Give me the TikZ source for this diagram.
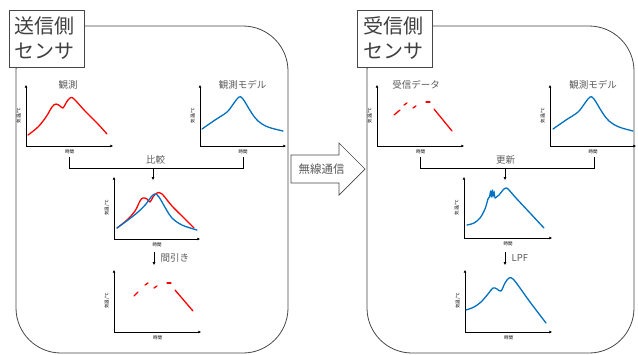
\documentclass[tikz,border=0pt]{standalone}
\usepackage{fontspec}
\setmainfont{Noto Sans CJK JP}
\usetikzlibrary{arrows.meta}
\definecolor{cred}{RGB}{255,0,0}
\definecolor{cblue}{RGB}{0,112,192}
\definecolor{tgray}{RGB}{89,89,89}
\definecolor{lgray}{RGB}{70,70,70}
\newcommand{\chartax}[5]{%
  \coordinate (#1o) at (#2,#3);
  \coordinate (#1x) at (#4,#3);
  \coordinate (#1y) at (#2,#5);
  \draw[axisline] (#1o) -- (#1x);
  \draw[axisline] (#1o) -- (#1y);
  \node[axlab] (#1xl) at ({(#2+#4)/2},#3+5.5) {時間};
  \node[axlab,rotate=90] (#1yl) at (#2-7,{(#3+#5)/2}) {気温/℃};
}
\begin{document}
\begin{tikzpicture}[x=1pt,y=-1pt,
  axisline/.style={line width=0.6pt,-{Triangle[length=2.6pt,width=2.4pt]}},
  axlab/.style={font=\fontsize{4.5}{5}\selectfont,inner sep=0},
  curve/.style={line width=1.3pt,line join=round,line cap=round},
  ttl/.style={font=\fontsize{9.5}{11}\selectfont,text=tgray,inner sep=0},
  bigbox/.style={draw=lgray,line width=0.8pt,rounded corners=45pt},
  titlebox/.style={draw=lgray,fill=white,line width=0.8pt,inner xsep=6pt,inner ysep=0pt,
     text width=63pt,minimum height=57pt,align=left,font=\fontsize{20}{25}\selectfont,text=black!75},
  conn/.style={line width=0.7pt},
  darrow/.style={line width=0.7pt,-{Triangle[length=3pt,width=2.6pt]}},
  steplab/.style={font=\fontsize{9.5}{11}\selectfont,text=tgray,inner sep=0}
]
\useasboundingbox (0,0) rectangle (638,354);

% big boxes
\draw[bigbox] (16,26) rectangle (288,353);
\draw[bigbox] (367,26) rectangle (634,353);
\node[titlebox] (lt) at (46.5,38.5) {送信側\\センサ};
\node[titlebox] (rt) at (395,38.5) {受信側\\センサ};

% block arrow
\draw[lgray,line width=0.7pt,fill=white] (291,155) -- (339,155) -- (339,143) -- (365,169) -- (339,195) -- (339,183) -- (291,183) -- cycle;
\node[font=\fontsize{11.5}{13}\selectfont,text=tgray,inner sep=0] (wl) at (321.5,169) {無線通信};

% ---------- left side ----------
\chartax{a}{26}{146}{113}{85}
\node[ttl] (at) at (68,85) {観測};
\draw[curve,cred] plot[smooth,tension=0.6] coordinates {(28,135) (38,127) (46,117) (52,107) (56,104) (60,106) (63,108) (66,103) (70,98) (74,99) (85,111) (97,123) (107,134)};

\chartax{b}{200}{146}{286}{85}
\node[ttl] (bt) at (242.5,85) {観測モデル};
\draw[curve,cblue] plot[smooth,tension=0.6] coordinates {(202,129) (215,120) (227,112) (234,103) (239,97) (243,99) (251,112) (258,121) (268,127) (283,131)};

% bracket 比較
\coordinate (c1) at (69,157);
\coordinate (c2) at (243,157);
\coordinate (c3) at (69,168);
\coordinate (c4) at (243,168);
\coordinate (c5) at (153,168);
\coordinate (c6) at (153,180);
\draw[conn] (c1) -- (c3) -- (c4) -- (c2);
\draw[darrow] (c5) -- (c6);
\node[steplab] (cl) at (155.5,160) {比較};

\chartax{c}{114}{239}{200}{177}
\draw[curve,cred] plot[smooth,tension=0.6] coordinates {(117,228) (127,220) (135,211) (140,201) (143,198) (147,199) (150,202) (153,197) (157,193) (162,194) (172,206) (184,218) (194,228)};
\draw[curve,cblue] plot[smooth,tension=0.6] coordinates {(117,228) (128,220) (138,212) (146,204) (151,197) (155,194) (159,197) (166,209) (172,218) (182,225) (197,230)};

\coordinate (d1) at (154,252);
\coordinate (d2) at (154,265);
\draw[darrow] (d1) -- (d2);
\node[steplab,anchor=west] (dl) at (160.5,258) {間引き};

\chartax{e}{114}{332}{201}{270}
\draw[curve,cred] (134,296) -- (138,292);
\draw[curve,cred] (145,285) -- (148,283);
\draw[curve,cred] (154,288) -- (157,286);
\draw[curve,cred] (167,283) -- (171,283);
\draw[curve,cred] (175,290) -- (193,311);

% ---------- right side ----------
\chartax{f}{377}{146}{464}{85}
\node[ttl] (ft) at (416,85) {受信データ};
\draw[curve,cred] (394,115) -- (400,110);
\draw[curve,cred] (404,105) -- (407,103);
\draw[curve,cred] (413,108) -- (416,106);
\draw[curve,cred] (426,102) -- (430,102);
\draw[curve,cred] (434,109) -- (452,131);

\chartax{g}{550}{146}{636}{85}
\node[ttl] (gt) at (593,85) {観測モデル};
\draw[curve,cblue] plot[smooth,tension=0.6] coordinates {(553,129) (566,120) (578,112) (585,103) (590,97) (594,99) (602,112) (609,121) (619,127) (633,131)};

% bracket 更新
\coordinate (h1) at (420,157);
\coordinate (h2) at (594,157);
\coordinate (h3) at (420,168);
\coordinate (h4) at (594,168);
\coordinate (h5) at (505,168);
\coordinate (h6) at (505,180);
\draw[conn] (h1) -- (h3) -- (h4) -- (h2);
\draw[darrow] (h5) -- (h6);
\node[steplab] (hl) at (505.5,160) {更新};

\chartax{i}{464}{238}{552}{177}
\draw[curve,cblue] plot[smooth,tension=0.6] coordinates {(467,225) (474,223) (480,218) (485,209) (488,199) (489.5,197)};
\draw[curve,cblue,line width=1.1pt] (489.5,197) -- (490.5,191) -- (491.3,197) -- (492.2,190) -- (493,197) -- (494,191) -- (495,198);
\draw[curve,cblue] plot[smooth,tension=0.6] coordinates {(495,198) (499,195) (503,190) (506,188) (509,190) (516,198) (530,213) (544,228)};

\coordinate (j1) at (505,252);
\coordinate (j2) at (505,265);
\draw[darrow] (j1) -- (j2);
\node[steplab,anchor=west] (jl) at (511.5,258) {LPF};

\chartax{k}{465}{332}{552}{270}
\draw[curve,cblue] plot[smooth,tension=0.6] coordinates {(466,310) (474,307) (481,302) (488,294) (493,288) (497,289) (501,291) (505,283) (509,278) (513,279) (520,288) (530,302) (546,323)};
\end{tikzpicture}
\end{document}
